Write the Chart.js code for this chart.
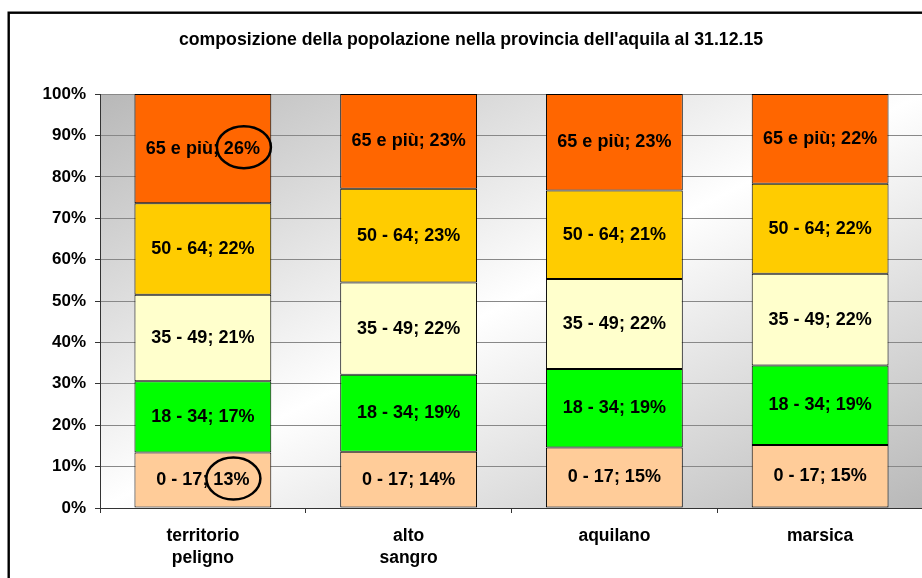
<!DOCTYPE html>
<html>
<head>
<meta charset="utf-8">
<script src="https://cdn.jsdelivr.net/npm/chart.js@4.4.0/dist/chart.umd.min.js"></script>
<style>
  html, body { margin: 0; padding: 0; background: #fff; overflow: hidden; }
  #wrap { width: 922px; height: 578px; overflow: hidden; position: relative; }
  canvas { display: block; }
</style>
</head>
<body>
<div id="wrap"><canvas id="c" width="940" height="578"></canvas></div>
<script>
const titleText = "composizione della popolazione nella provincia dell'aquila al 31.12.15";
const categories = [["territorio", "peligno"], ["alto", "sangro"], "aquilano", "marsica"];
const seriesNames = ["0 - 17", "18 - 34", "35 - 49", "50 - 64", "65 e più"];
const age0_17  = [13.4, 13.6, 14.6, 15.2];
const age18_34 = [17.2, 18.6, 19.0, 19.2];
const age35_49 = [20.9, 22.3, 21.7, 22.2];
const age50_64 = [22.1, 22.6, 21.4, 21.7];
const age65up  = [26.4, 22.9, 23.3, 21.7];
const yTicks = [0, 10, 20, 30, 40, 50, 60, 70, 80, 90, 100];
const seriesColors = ["#FFCC99", "#00FF00", "#FFFFCC", "#FFCC00", "#FF6600"];
const circled = [[4, 0], [0, 0]]; // [dataset, category] labels circled in the original

const FONT = "'Liberation Sans', Arial, sans-serif";
const seriesData = [age0_17, age18_34, age35_49, age50_64, age65up];

const bgPlugin = {
  id: 'bg',
  beforeDraw(chart) {
    const ctx = chart.ctx, a = chart.chartArea;
    ctx.save();
    ctx.strokeStyle = '#000';
    ctx.lineWidth = 2.4;
    ctx.strokeRect(8.7, 12.7, chart.width + 20, chart.height + 20);
    ctx.translate(a.left, a.top);
    ctx.scale(a.right - a.left, a.bottom - a.top);
    const g = ctx.createLinearGradient(0, 0, 1, 1);
    g.addColorStop(0, '#b8b8b8');
    g.addColorStop(0.5, '#ffffff');
    g.addColorStop(1, '#b8b8b8');
    ctx.fillStyle = g;
    ctx.fillRect(0, 0, 1, 1);
    ctx.restore();
  }
};

const labelPlugin = {
  id: 'labels',
  afterDatasetsDraw(chart) {
    const ctx = chart.ctx;
    ctx.save();
    ctx.font = "bold 18px " + FONT;
    ctx.fillStyle = '#000';
    ctx.textAlign = 'center';
    ctx.textBaseline = 'middle';
    chart.data.datasets.forEach((ds, di) => {
      const meta = chart.getDatasetMeta(di);
      meta.data.forEach((bar, i) => {
        const v = ds.data[i];
        const valTxt = Math.round(v) + '%';
        const txt = ds.label + '; ' + valTxt;
        const cy = (bar.y + bar.base) / 2;
        ctx.fillText(txt, bar.x, cy);
        if (circled.some(c => c[0] === di && c[1] === i)) {
          const fw = ctx.measureText(txt).width;
          const vw = ctx.measureText(valTxt).width;
          const cx = bar.x + fw / 2 - vw / 2 + 2;
          ctx.beginPath();
          ctx.lineWidth = 2.5;
          ctx.strokeStyle = '#000';
          ctx.ellipse(cx, cy - 1.5, vw / 2 + 9, 21, 0, 0, Math.PI * 2);
          ctx.stroke();
        }
      });
    });
    ctx.restore();
  }
};

new Chart(document.getElementById('c'), {
  type: 'bar',
  data: {
    labels: categories,
    datasets: seriesNames.map((n, k) => ({
      label: n,
      data: seriesData[k],
      backgroundColor: seriesColors[k],
      borderColor: '#000',
      borderWidth: 1,
      borderSkipped: false,
      categoryPercentage: 1,
      barPercentage: 0.665
    }))
  },
  options: {
    responsive: false,
    animation: false,
    devicePixelRatio: 1,
    layout: { padding: { left: 19, right: 17, top: 0, bottom: 0 } },
    plugins: {
      legend: { display: false },
      tooltip: { enabled: false },
      title: {
        display: true,
        text: titleText,
        color: '#000',
        font: { family: FONT, size: 17.7, weight: 'bold', lineHeight: 1.2 },
        padding: { top: 29.4, bottom: 43.4 }
      }
    },
    scales: {
      x: {
        stacked: true,
        afterFit(s) { s.height = 70; },
        grid: { drawOnChartArea: false, drawTicks: true, tickLength: 5, tickColor: '#333', offset: true },
        border: { color: '#333', width: 1 },
        ticks: { color: '#000', padding: 12, font: { family: FONT, size: 17.5, weight: 'bold', lineHeight: 1.27 }, maxRotation: 0, autoSkip: false }
      },
      y: {
        stacked: true,
        min: 0,
        max: 100,
        afterFit(s) { s.width = 81; },
        afterBuildTicks(s) { s.ticks = yTicks.map(v => ({ value: v })); },
        grid: { color: '#888888', lineWidth: 1, tickLength: 5, tickColor: '#333' },
        border: { color: '#333', width: 1 },
        ticks: {
          color: '#000', padding: 9,
          font: { family: FONT, size: 17, weight: 'bold' },
          callback: v => v + '%'
        }
      }
    }
  },
  plugins: [bgPlugin, labelPlugin]
});
</script>
</body>
</html>
